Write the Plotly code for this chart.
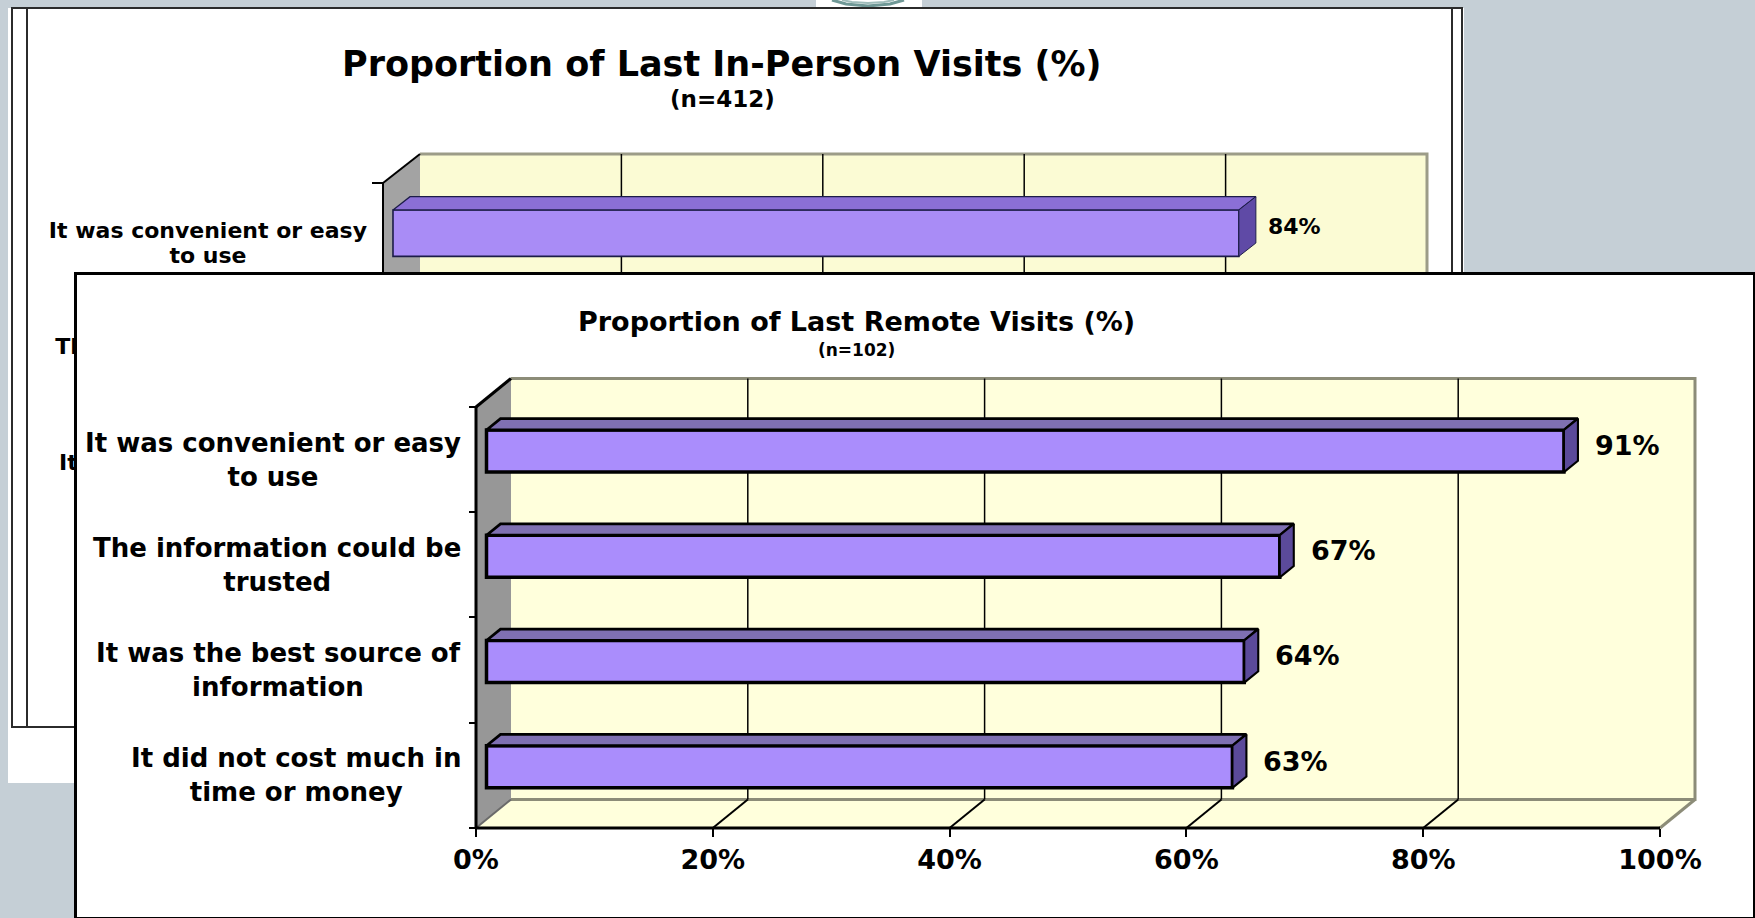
import plotly.graph_objects as go

W, H = 1755, 918

# ---------------- data ----------------
CATEGORIES = [
    "It was convenient or easy<br>to use",
    "The information could be<br>trusted",
    "It was the best source of<br>information",
    "It did not cost much in<br>time or money",
]
IN_PERSON_PCT = [84]
REMOTE_PCT = [91, 67, 64, 63]
AXIS_TICKS = [0, 20, 40, 60, 80, 100]
AXIS_TICK_LABELS = ["0%", "20%", "40%", "60%", "80%", "100%"]

IN_PERSON_TITLE = "Proportion of Last In-Person Visits (%)"
IN_PERSON_N = "(n=412)"
REMOTE_TITLE = "Proportion of Last Remote Visits (%)"
REMOTE_N = "(n=102)"

FONT = "DejaVu Sans, Verdana, sans-serif"

# approximate DejaVu Sans Bold advance widths (em) used to right-align label blocks
GLYPH_EM = {
    " ": .348, "I": .372, "T": .682, "a": .675, "b": .716, "c": .593, "d": .716,
    "e": .678, "f": .435, "h": .712, "i": .343, "l": .343, "m": 1.042, "n": .712,
    "o": .687, "r": .493, "s": .595, "t": .478, "u": .712, "v": .652, "w": .924,
    "y": .652,
}


def text_width(line, size):
    return sum(GLYPH_EM.get(ch, 0.65) for ch in line) * size


# ---------------- geometry (pixels) ----------------
BACK_GEO = dict(
    panel=(13, 9, 1461, 726), zero_px=383, px_per_pct=10.07,
    cat0_px=241, px_per_cat=116, depth_px=(37, 29), bar_depth=(0.27, 0.73),
    title_xy=(722, 64), sub_xy=(722, 99), label_right_px=367, label_dy_px=4,
    label_line_px=24.5, show_tick_labels=False,
)
FRONT_GEO = dict(
    panel=(77, 275, 1753, 917), zero_px=476, px_per_pct=11.84,
    cat0_px=459.6, px_per_cat=105.25, depth_px=(35, 28.5), bar_depth=(0.3, 0.7),
    title_xy=(856, 322), sub_xy=(856, 350), label_gap=13,
    show_tick_labels=True,
)

BACK_STYLE = dict(
    frame_color="#2b2b2b", frame_width=2,
    wall="#fbfbd4", side_wall="#a3a3a3", wall_edge="#9c9c88",
    bar_front="#a98cf6", bar_top="#8b6fd6", bar_side="#5f4aa6",
    bar_edge="#1c1c48", bar_edge_w=1.6, bar_h=0.4,
    grid_w=1.5, axis_w=2, xtick_len=8, ytick_len=11,
    title_size=35, sub_size=23, label_size=22, tick_size=22, value_size=22, value_gap=10,
)
FRONT_STYLE = dict(
    frame_color="black", frame_width=3,
    wall="#ffffdc", side_wall="#979797", wall_edge="#8c8c78",
    bar_front="#aa8dfc", bar_top="#7f70b2", bar_side="#5b4a9a",
    bar_edge="black", bar_edge_w=3.5, bar_h=0.4,
    grid_w=1.5, axis_w=3, xtick_len=8, ytick_len=7,
    title_size=27, sub_size=17, label_size=26, tick_size=27, value_size=27, value_gap=15,
)


def lay_key(aid):
    return ("xaxis" if aid[0] == "x" else "yaxis") + aid[1:]


def font(size):
    return dict(family=FONT, size=size, color="black", weight="bold")


fig = go.Figure()
annotations = []


def poly(xs, ys, fill, xa, ya, edge=None, width=0):
    fig.add_trace(go.Scatter(
        x=list(xs) + [xs[0]], y=list(ys) + [ys[0]], mode="lines",
        fill="toself", fillcolor=fill,
        line=dict(color=edge or fill, width=width),
        xaxis=xa, yaxis=ya, hoverinfo="skip", showlegend=False))


def segs(xs, ys, color, width, xa, ya):
    fig.add_trace(go.Scatter(
        x=xs, y=ys, mode="lines", line=dict(color=color, width=width),
        xaxis=xa, yaxis=ya, hoverinfo="skip", showlegend=False))


def add_chart(g, s, ids, values, title, subtitle, label_mode):
    xm, ym, xt, yt, xb, yb = ids
    L, T, R, B = g["panel"]
    ppx, ppc = g["px_per_pct"], g["px_per_cat"]
    z, c0 = g["zero_px"], g["cat0_px"]
    dxp, dyp = g["depth_px"]
    DX, DY = dxp / ppx, dyp / ppc
    n = len(CATEGORIES)
    top, bot = -0.5, n - 0.5
    lo, hi = AXIS_TICKS[0], AXIS_TICKS[-1]

    # front plane scales
    xr = [(L - z) / ppx, (R - z) / ppx]
    yr = [(B - c0) / ppc, (T - c0) / ppc]
    # bar plane scales (shifted into depth)
    d0, d1 = g["bar_depth"]
    zb, cb = z + d0 * dxp, c0 - d0 * dyp
    xrb = [(L - zb) / ppx, (R - zb) / ppx]
    yrb = [(B - cb) / ppc, (T - cb) / ppc]
    bx, by = (d1 - d0) * DX, (d1 - d0) * DY

    frame = dict(showline=True, mirror=True, linecolor=s["frame_color"],
                 linewidth=s["frame_width"], showgrid=False, zeroline=False,
                 ticks="", showticklabels=False, fixedrange=True)
    plain = dict(showline=False, showgrid=False, zeroline=False, fixedrange=True)
    fig.update_layout({
        lay_key(xm): dict(domain=[L / W, R / W], range=xr, anchor=ym, **frame),
        lay_key(ym): dict(domain=[1 - B / H, 1 - T / H], range=yr, anchor=xm, **frame),
        lay_key(xt): dict(overlaying=xm, anchor="free",
                          position=1 - (c0 + bot * ppc) / H, range=xr,
                          tickmode="array", tickvals=AXIS_TICKS, ticktext=AXIS_TICK_LABELS,
                          showticklabels=g["show_tick_labels"],
                          ticks="outside", ticklen=s["xtick_len"], tickwidth=2,
                          tickcolor="black", tickfont=font(s["tick_size"]), **plain),
        lay_key(yt): dict(overlaying=ym, anchor="free", position=z / W, range=yr,
                          tickmode="array", tickvals=[i - 0.5 for i in range(n + 1)],
                          ticks="outside", ticklen=s["ytick_len"], tickwidth=2,
                          tickcolor="black", showticklabels=False, **plain),
        lay_key(xb): dict(overlaying=xm, anchor=yb, range=xrb, visible=False, fixedrange=True),
        lay_key(yb): dict(overlaying=ym, anchor=xb, range=yrb, visible=False, fixedrange=True),
    })

    # side wall, back wall and floor
    poly([lo, lo + DX, lo + DX, lo], [top, top - DY, bot - DY, bot], s["side_wall"], xm, ym)
    poly([lo + DX, hi + DX, hi + DX, lo + DX], [top - DY, top - DY, bot - DY, bot - DY],
         s["wall"], xm, ym)
    poly([lo, hi, hi + DX, lo + DX], [bot, bot, bot - DY, bot - DY], s["wall"], xm, ym)
    segs([lo + DX, hi + DX, hi + DX, lo + DX, None, hi + DX, hi],
         [top - DY, top - DY, bot - DY, bot - DY, None, bot - DY, bot],
         s["wall_edge"], 3, xm, ym)

    # gridlines on wall and floor
    gx, gy, fx, fy = [], [], [], []
    for v in AXIS_TICKS[1:-1]:
        gx += [v + DX, v + DX, None]
        gy += [top - DY, bot - DY, None]
        fx += [v, v + DX, None]
        fy += [bot, bot - DY, None]
    segs(gx, gy, "black", s["grid_w"], xm, ym)
    segs(fx, fy, "black", 2, xm, ym)
    segs([lo, lo + DX], [bot, bot - DY], "#6a6a6a", 2, xm, ym)

    # category labels
    if label_mode == "text":
        # each block is right-aligned to the axis, its lines centred within the block
        tx_, ty_, tt_ = [], [], []
        for i, cat in enumerate(CATEGORIES):
            lines = cat.split("<br>")
            wmax = max(text_width(ln, s["label_size"]) for ln in lines)
            cx = (g["label_right_px"] - wmax / 2 - z) / ppx
            for k, ln in enumerate(lines):
                off = (k - (len(lines) - 1) / 2) * g["label_line_px"] + g["label_dy_px"]
                tx_.append(cx)
                ty_.append(i + off / ppc)
                tt_.append(ln)
        fig.add_trace(go.Scatter(
            x=tx_, y=ty_, mode="text", text=tt_,
            textposition="middle center", textfont=font(s["label_size"]),
            xaxis=xm, yaxis=ym, hoverinfo="skip", showlegend=False))
    else:
        for i, cat in enumerate(CATEGORIES):
            annotations.append(dict(
                xref=xt, yref=yt, x=lo, y=i, text=cat, showarrow=False,
                xanchor="right", yanchor="middle", align="center",
                xshift=-g["label_gap"], font=font(s["label_size"])))

    # front plane axis lines
    segs([lo, lo, None, lo, hi, None, lo, lo + DX],
         [top, bot, None, bot, bot, None, top, top - DY],
         "black", s["axis_w"], xt, yt)

    # bars: front faces
    idx = list(range(len(values)))
    fig.add_trace(go.Bar(
        x=values, y=idx, orientation="h", width=s["bar_h"],
        marker=dict(color=s["bar_front"], line=dict(color=s["bar_edge"], width=s["bar_edge_w"])),
        xaxis=xb, yaxis=yb, hoverinfo="skip", showlegend=False))
    h = s["bar_h"] / 2
    for i, v in zip(idx, values):
        poly([0, v, v + bx, bx], [i - h, i - h, i - h - by, i - h - by],
             s["bar_top"], xb, yb, s["bar_edge"], s["bar_edge_w"] * 0.8)
        poly([v, v + bx, v + bx, v], [i - h, i - h - by, i + h - by, i + h],
             s["bar_side"], xb, yb, s["bar_edge"], s["bar_edge_w"] * 0.6)
        annotations.append(dict(
            xref=xb, yref=yb, x=v + bx, y=i - by / 2, text=f"{v}%", showarrow=False,
            xanchor="left", yanchor="middle", xshift=s["value_gap"],
            font=font(s["value_size"])))

    # titles
    tx, ty = g["title_xy"]
    sx, sy = g["sub_xy"]
    annotations.append(dict(xref="paper", yref="paper", x=tx / W, y=1 - ty / H,
                            text=title, showarrow=False, xanchor="center",
                            yanchor="middle", font=font(s["title_size"])))
    annotations.append(dict(xref="paper", yref="paper", x=sx / W, y=1 - sy / H,
                            text=subtitle, showarrow=False, xanchor="center",
                            yanchor="middle", font=font(s["sub_size"])))


add_chart(BACK_GEO, BACK_STYLE, ("x", "y", "x3", "y3", "x5", "y5"),
          IN_PERSON_PCT, IN_PERSON_TITLE, IN_PERSON_N, "text")
add_chart(FRONT_GEO, FRONT_STYLE, ("x2", "y2", "x4", "y4", "x6", "y6"),
          REMOTE_PCT, REMOTE_TITLE, REMOTE_N, "annotation")


def px_rect(x0, y0, x1, y1, **kw):
    return dict(type="rect", xref="paper", yref="paper", x0=x0 / W, x1=x1 / W,
                y0=1 - y1 / H, y1=1 - y0 / H, layer="below", **kw)


def px_line(x0, y0, x1, y1, color, width):
    return dict(type="line", xref="paper", yref="paper", x0=x0 / W, x1=x1 / W,
                y0=1 - y0 / H, y1=1 - y1 / H, layer="below",
                line=dict(color=color, width=width))


def px_path(pts, color, width):
    d = "M " + " L ".join(f"{x / W},{1 - y / H}" for x, y in pts)
    return dict(type="path", xref="paper", yref="paper", path=d, layer="below",
                line=dict(color=color, width=width))


shapes = [
    # back sheet and its double frame lines
    px_rect(8, 8, 1464, 783, fillcolor="white", line=dict(width=0)),
    px_line(27, 9, 27, 726, "#2b2b2b", 2),
    px_line(1452, 9, 1452, 726, "#2b2b2b", 2),
    # emblem peeking above the sheet
    px_rect(816, 0, 922, 8, fillcolor="white", line=dict(width=0)),
    px_path([(832, 0), (846, 4), (868, 6), (890, 4), (904, 0)], "#6f9896", 3),
    px_path([(842, 0), (852, 2), (868, 3), (884, 2), (894, 0)], "#9fbcba", 2),
]

fig.update_layout(
    width=W, height=H, autosize=False,
    margin=dict(l=0, r=0, t=0, b=0, pad=0),
    paper_bgcolor="#c5cfd6", plot_bgcolor="white",
    showlegend=False, annotations=annotations, shapes=shapes,
    barmode="overlay",
)

fig.write_html("out.html")
